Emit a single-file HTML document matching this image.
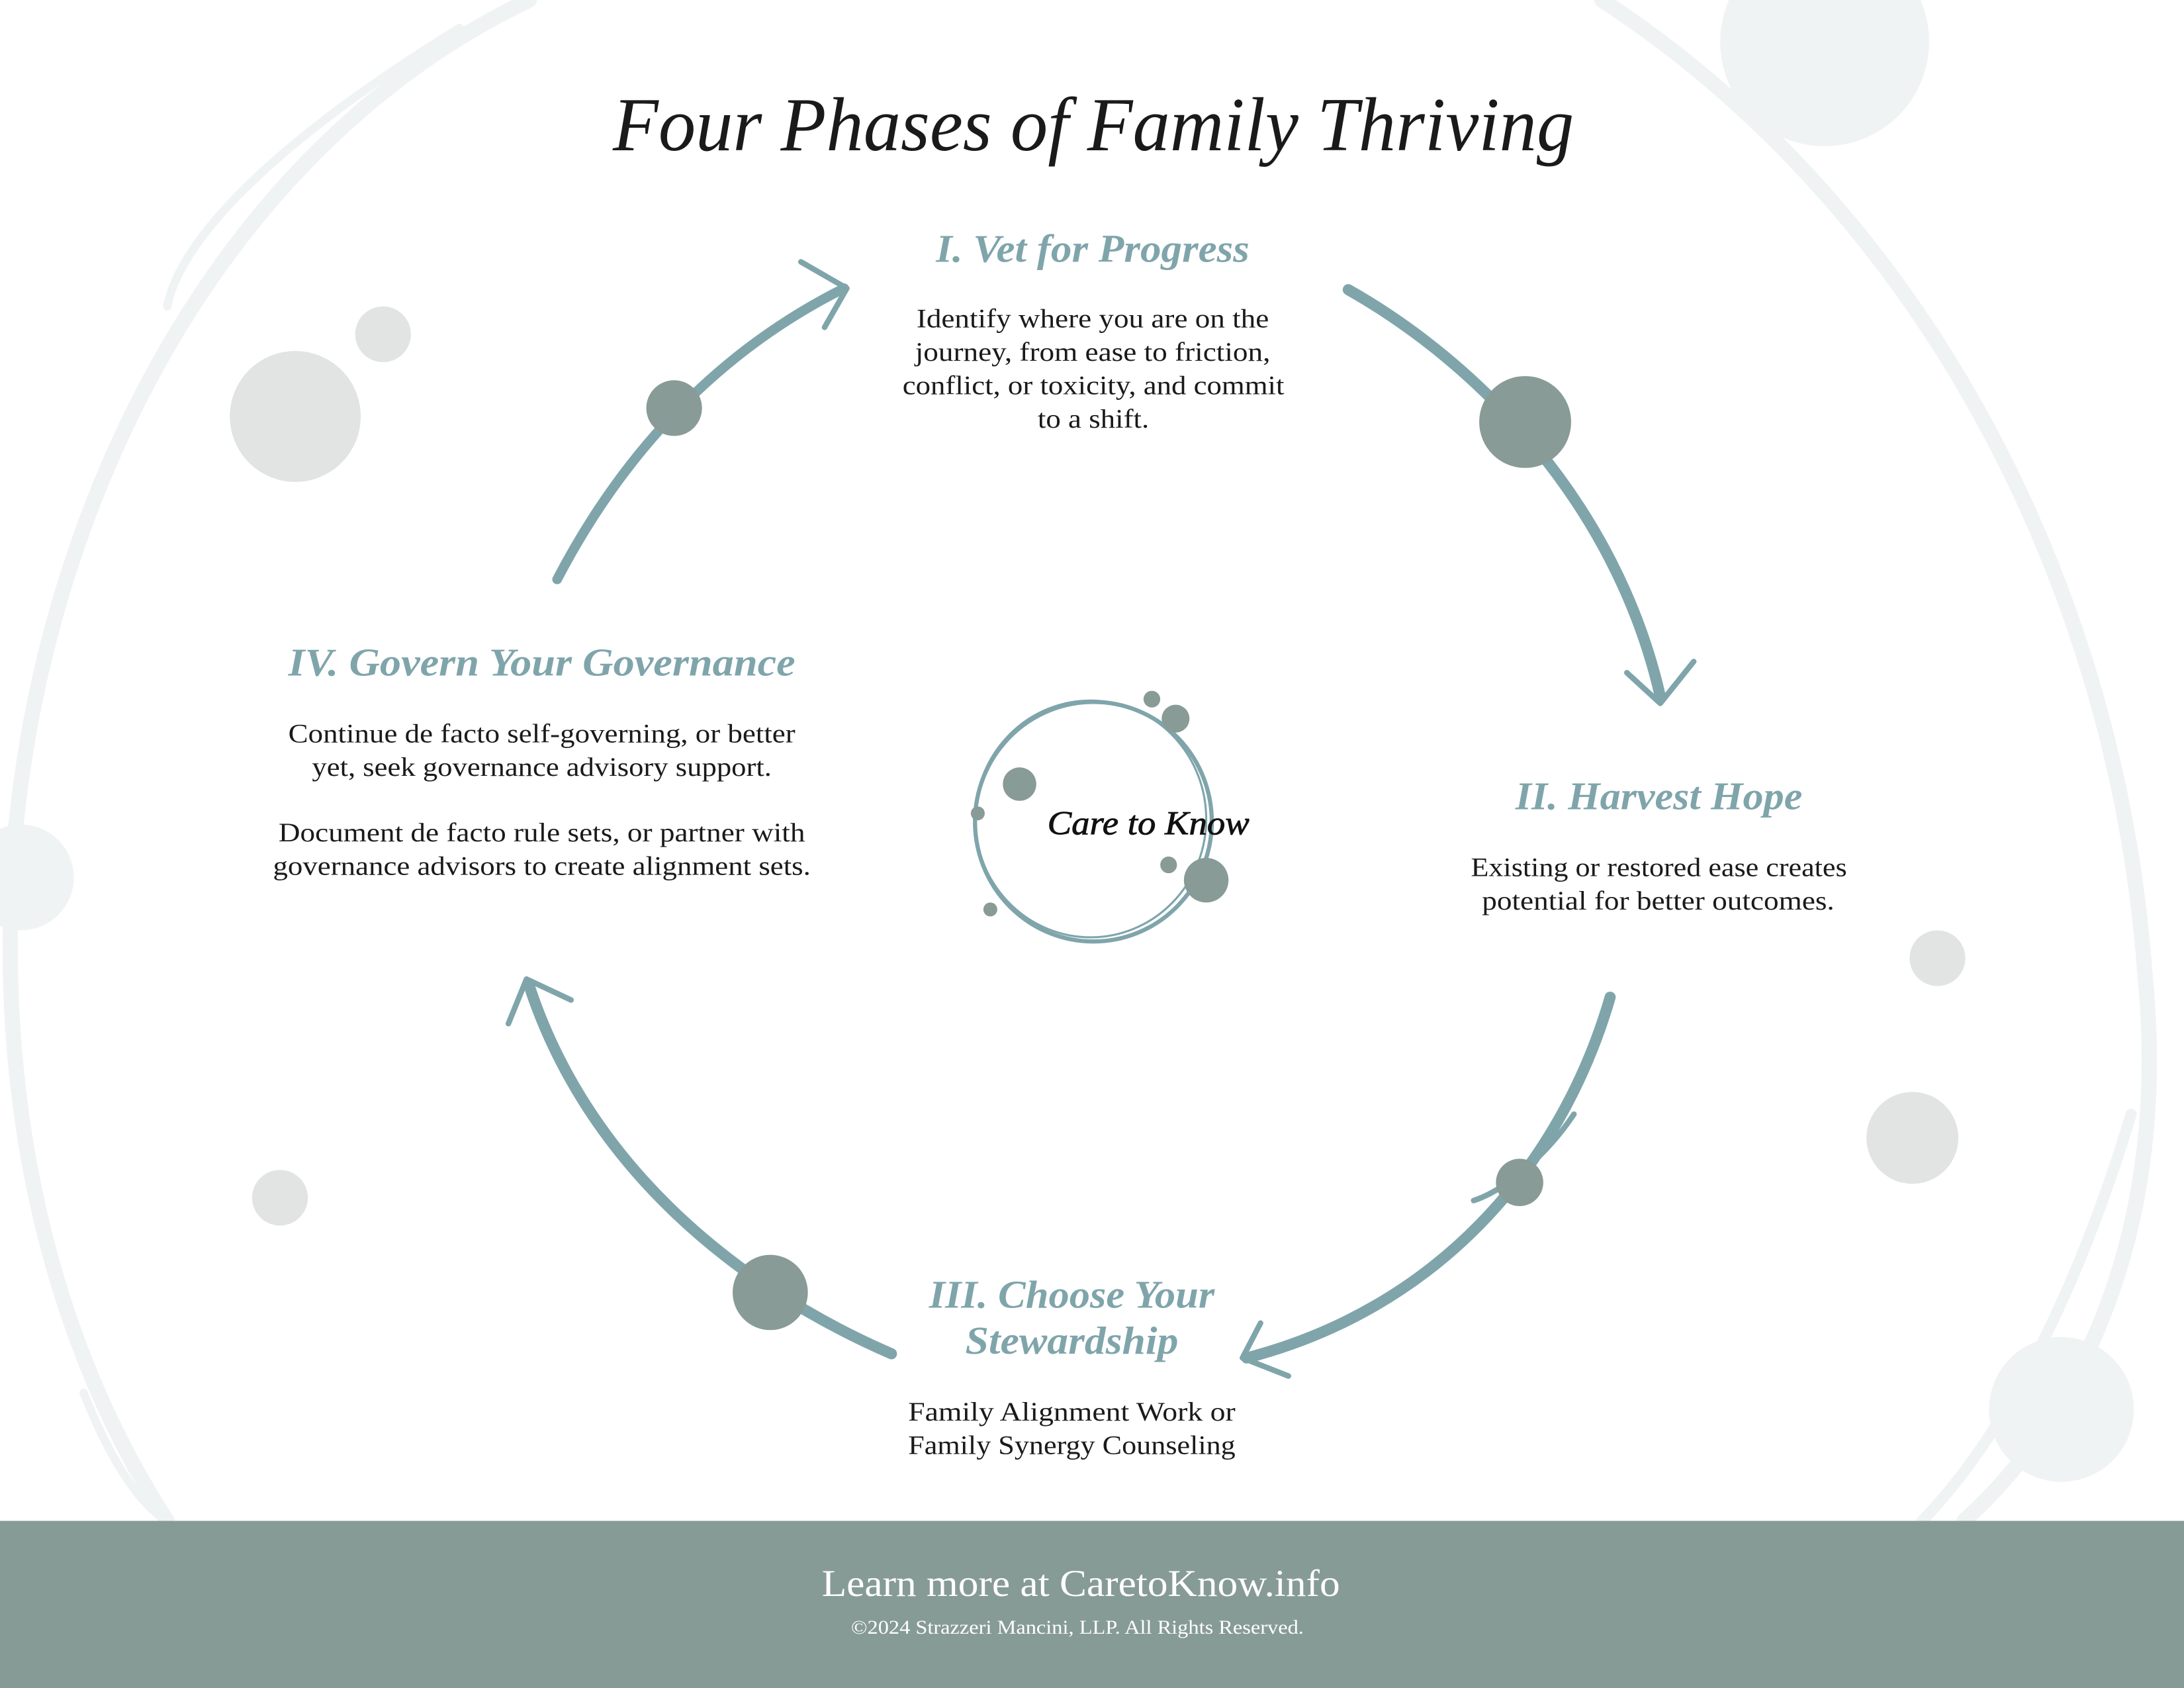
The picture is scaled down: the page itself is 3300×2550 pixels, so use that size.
<!DOCTYPE html>
<html><head><meta charset="utf-8"><style>
html,body{margin:0;padding:0;background:#fff;}
svg{display:block;}
</style></head><body>
<svg width="3300" height="2550" viewBox="0 0 1568 1212" preserveAspectRatio="none" xmlns="http://www.w3.org/2000/svg">
<rect width="1568" height="1212" fill="#fff"/>
<g fill="none" stroke="#f0f3f3" stroke-linecap="round">
<path d="M380 0 C150 110 20 380 8 640 C0 850 60 1000 120 1092" stroke-width="11"/>
<path d="M330 20 C200 100 130 170 120 220" stroke-width="6"/>
<path d="M1150 0 C1380 150 1520 420 1540 700 C1560 900 1480 1030 1410 1092" stroke-width="11"/>
<path d="M1530 800 C1500 900 1450 1020 1380 1092" stroke-width="8"/>
<path d="M60 1000 C80 1050 100 1080 120 1092" stroke-width="6"/>
</g>
<g fill="#e1e4e3">
<circle cx="212" cy="299" r="47"/>
<circle cx="275" cy="240" r="20"/>
<circle cx="201" cy="860" r="20"/>
<circle cx="1391" cy="688" r="20"/>
<circle cx="1373" cy="817" r="33"/>
<circle cx="15" cy="630" r="38" fill="#f0f3f3"/>
<circle cx="1480" cy="1012" r="52" fill="#f0f3f3"/>
<circle cx="1310" cy="30" r="75" fill="#f0f3f3"/>
</g>
<g fill="none" stroke="#7fa5ab" stroke-linecap="round" stroke-linejoin="round">
<path d="M968 208 C1060 260 1160 360 1192 500" stroke-width="8"/>
<polyline points="1168,483 1192,505 1216,475" stroke-width="4"/>
<path d="M1156 716 C1120 840 1030 940 895 975" stroke-width="8"/>
<path d="M1130 800 C1110 830 1080 855 1058 862" stroke-width="4"/>
<polyline points="905,950 892,975 925,988" stroke-width="4"/>
<path d="M640 972 C520 920 420 830 380 708" stroke-width="8"/>
<polyline points="365,735 378,703 410,718" stroke-width="4"/>
<path d="M400 416 C450 320 520 250 606 207" stroke-width="7"/>
<polyline points="575,188 608,207 592,235" stroke-width="4"/>
</g>
<g fill="#889b96">
<circle cx="1095" cy="303" r="33"/>
<circle cx="1091" cy="849" r="17"/>
<circle cx="553" cy="928" r="27"/>
<circle cx="484" cy="293" r="20"/>
</g>
<g fill="none" stroke="#7fa5ab">
<ellipse cx="785" cy="590" rx="85" ry="86" stroke-width="3"/>
<ellipse cx="783" cy="588" rx="83" ry="85" stroke-width="1.5"/>
</g>
<g fill="#889b96">
<circle cx="827" cy="502" r="6"/>
<circle cx="844" cy="516" r="10"/>
<circle cx="732" cy="563" r="12"/>
<circle cx="702" cy="584" r="5"/>
<circle cx="839" cy="621" r="6"/>
<circle cx="866" cy="632" r="16"/>
<circle cx="711" cy="653" r="5"/>
</g>
<text x="752" y="599" textLength="145" lengthAdjust="spacingAndGlyphs" font-family="Liberation Serif, serif" font-style="italic" font-size="24" fill="#111" stroke="#111" stroke-width="0.4">Care to Know</text>
<text x="440" y="108" textLength="690" lengthAdjust="spacingAndGlyphs" font-family="Liberation Serif, serif" font-style="italic" font-size="55" fill="#1a1a1a">Four Phases of Family Thriving</text>
<g font-family="Liberation Serif, serif" font-style="italic" font-weight="bold" font-size="28" fill="#7fa5ab" lengthAdjust="spacingAndGlyphs">
<text x="672" y="188" textLength="225" lengthAdjust="spacingAndGlyphs">I. Vet for Progress</text>
<text x="1088" y="581" textLength="206" lengthAdjust="spacingAndGlyphs">II. Harvest Hope</text>
<text x="667" y="939" textLength="205" lengthAdjust="spacingAndGlyphs">III. Choose Your</text>
<text x="693" y="972" textLength="153" lengthAdjust="spacingAndGlyphs">Stewardship</text>
<text x="207" y="485" textLength="364" lengthAdjust="spacingAndGlyphs">IV. Govern Your Governance</text>
</g>
<g font-family="Liberation Serif, serif" font-size="19" fill="#1a1a1a">
<text x="658" y="235" textLength="253" lengthAdjust="spacingAndGlyphs">Identify where you are on the</text>
<text x="657" y="259" textLength="255" lengthAdjust="spacingAndGlyphs">journey, from ease to friction,</text>
<text x="648" y="283" textLength="274" lengthAdjust="spacingAndGlyphs">conflict, or toxicity, and commit</text>
<text x="745" y="307" textLength="80" lengthAdjust="spacingAndGlyphs">to a shift.</text>
<text x="1056" y="629" textLength="270" lengthAdjust="spacingAndGlyphs">Existing or restored ease creates</text>
<text x="1064" y="653" textLength="253" lengthAdjust="spacingAndGlyphs">potential for better outcomes.</text>
<text x="652" y="1020" textLength="235" lengthAdjust="spacingAndGlyphs">Family Alignment Work or</text>
<text x="652" y="1044" textLength="235" lengthAdjust="spacingAndGlyphs">Family Synergy Counseling</text>
<text x="207" y="533" textLength="364" lengthAdjust="spacingAndGlyphs">Continue de facto self-governing, or better</text>
<text x="224" y="557" textLength="330" lengthAdjust="spacingAndGlyphs">yet, seek governance advisory support.</text>
<text x="200" y="604" textLength="378" lengthAdjust="spacingAndGlyphs">Document de facto rule sets, or partner with</text>
<text x="196" y="628" textLength="386" lengthAdjust="spacingAndGlyphs">governance advisors to create alignment sets.</text>
</g>
<rect x="0" y="1092" width="1568" height="120" fill="#879b96"/>
<text x="590" y="1146" textLength="372" lengthAdjust="spacingAndGlyphs" font-family="Liberation Serif, serif" font-size="27" fill="#fff">Learn more at CaretoKnow.info</text>
<text x="611" y="1173" textLength="325" lengthAdjust="spacingAndGlyphs" font-family="Liberation Serif, serif" font-size="14" fill="#fff">©2024 Strazzeri Mancini, LLP. All Rights Reserved.</text>
</svg>
</body></html>
